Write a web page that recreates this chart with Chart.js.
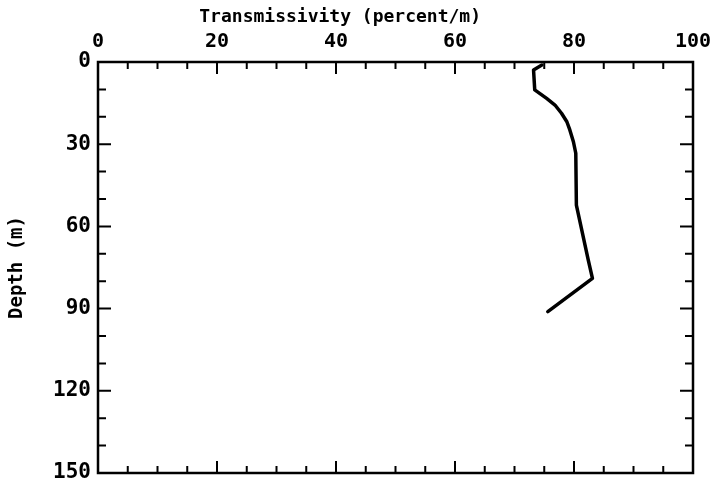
<!DOCTYPE html>
<html>
<head>
<meta charset="utf-8">
<script src="https://cdn.jsdelivr.net/npm/chart.js@4/dist/chart.umd.min.js"></script>
<style>
  html, body { margin: 0; padding: 0; background: #fff; }
  #wrap { width: 720px; height: 489px; }
</style>
</head>
<body>
<div id="wrap"><canvas id="Chart" width="720" height="489"></canvas></div>
<script>
//profile values
var transmissivity = [74.6, 73.2, 73.4, 75.4, 76.8, 77.9, 78.8, 79.3, 79.9, 80.3, 80.4, 82.4, 83.1, 75.6];
var depth = [1.1, 2.9, 10.2, 13.3, 15.7, 18.7, 21.8, 24.8, 29.1, 33.3, 52.2, 72.3, 79.0, 91.1];
var xLabels = [0, 20, 40, 60, 80, 100];
var yLabels = [0, 30, 60, 90, 120, 150];
var xTitle = "Transmissivity (percent/m)";
var yTitle = "Depth (m)";

var plotFont = "'DejaVu Sans Mono', monospace";

//frame, inward ticks on all four sides and the top title
var framePlugin = {
  id: "frame",
  afterDatasetsDraw: function (chart) {
    var ctx = chart.ctx;
    var a = chart.chartArea;
    var xs = chart.scales.x;
    var ys = chart.scales.y;
    ctx.save();
    ctx.strokeStyle = "#000";
    ctx.lineWidth = 2.5;
    ctx.strokeRect(a.left, a.top, a.right - a.left, a.bottom - a.top);
    ctx.lineWidth = 2;
    ctx.beginPath();
    for (var v = 5; v < 100; v += 5) {
      var px = xs.getPixelForValue(v);
      var len = v % 20 == 0 ? 12 : 7;
      ctx.moveTo(px, a.top);
      ctx.lineTo(px, a.top + len);
      ctx.moveTo(px, a.bottom);
      ctx.lineTo(px, a.bottom - len);
    }
    for (var d = 10; d < 150; d += 10) {
      var py = ys.getPixelForValue(d);
      var len2 = d % 30 == 0 ? 13 : 8;
      ctx.moveTo(a.left, py);
      ctx.lineTo(a.left + len2, py);
      ctx.moveTo(a.right, py);
      ctx.lineTo(a.right - len2, py);
    }
    ctx.stroke();

    //title sits left of centre in the original
    ctx.fillStyle = "#000";
    ctx.font = "bold 18px " + plotFont;
    ctx.textAlign = "center";
    ctx.textBaseline = "middle";
    ctx.fillText(xTitle, xs.getPixelForValue(40.7), 17);
    ctx.restore();
  },
};

var points = depth.map(function (d, i) {
  return { x: transmissivity[i], y: d };
});

var ctx = document.getElementById("Chart").getContext("2d");
var myChart = new Chart(ctx, {
  type: "scatter",
  data: {
    datasets: [
      {
        data: points,
        showLine: true,
        borderColor: "#000",
        borderWidth: 3.5,
        borderJoinStyle: "round",
        borderCapStyle: "round",
        pointRadius: 0,
        tension: 0,
      },
    ],
  },
  options: {
    responsive: false,
    animation: false,
    layout: { padding: { top: 0, left: 0, right: 27, bottom: 16 } },
    plugins: { legend: { display: false }, tooltip: { enabled: false } },
    scales: {
      x: {
        position: "top",
        min: 0,
        max: 100,
        afterBuildTicks: function (scale) {
          scale.ticks = xLabels.map(function (v) { return { value: v }; });
        },
        afterFit: function (scale) { scale.height = 62; },
        grid: { display: false, drawTicks: false },
        border: { display: false },
        ticks: {
          color: "#000",
          padding: 8,
          maxRotation: 0,
          font: { family: plotFont, size: 20, weight: "bold" },
        },
      },
      y: {
        reverse: true,
        min: 0,
        max: 150,
        afterBuildTicks: function (scale) {
          scale.ticks = yLabels.map(function (v) { return { value: v }; });
        },
        afterFit: function (scale) {
          scale.width = 98;
          scale.paddingBottom = 0;
        },
        grid: { display: false, drawTicks: false },
        border: { display: false },
        ticks: {
          color: "#000",
          padding: 7,
          font: { family: plotFont, size: 21, weight: "bold" },
        },
        title: {
          display: true,
          text: yTitle,
          color: "#000",
          padding: { top: 6, bottom: 0 },
          font: { family: plotFont, size: 19, weight: "bold" },
        },
      },
    },
  },
  plugins: [framePlugin],
});
</script>
</body>
</html>
